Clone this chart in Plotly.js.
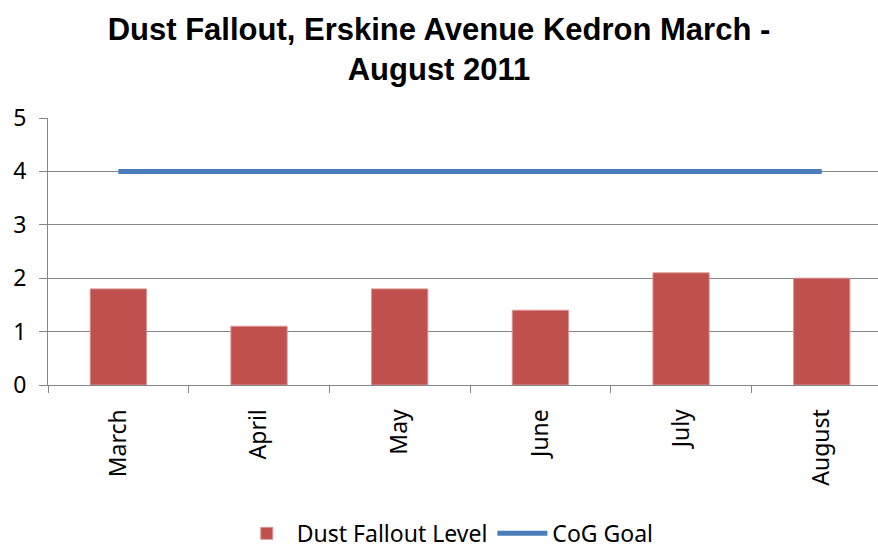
<!DOCTYPE html>
<html><head><meta charset="utf-8">
<script src="https://cdn.plot.ly/plotly-3.0.1.min.js"></script>
<style>html,body{margin:0;padding:0;background:#fff}#chart{width:878px;height:551px}</style>
</head><body><div id="chart"></div>
<script>
const months = ["March","April","May","June","July","August"];
const dustLevel = [1.8, 1.1, 1.8, 1.4, 2.1, 2.0];
const cogGoal = [4, 4, 4, 4, 4, 4];
const yTicks = [0,1,2,3,4,5];

const tickFont = {family:"Noto Sans, Open Sans, sans-serif", size:23, color:"#000"};
const data = [
  {type:"bar", name:"Dust Fallout Level", x:months, y:dustLevel,
   marker:{color:"#c0504d", line:{color:"#d99694", width:1}}},
  {type:"scatter", mode:"lines", name:"CoG Goal", x:months, y:cogGoal,
   line:{color:"#4a7ebb", width:5}}
];
const layout = {
  width:878, height:551,
  margin:{l:48, r:0, t:118, b:166},
  paper_bgcolor:"#fff", plot_bgcolor:"#fff",
  title:{text:"Dust Fallout, Erskine Avenue Kedron March -<br>August 2011",
    font:{family:"Liberation Sans, Arial, sans-serif", size:31, color:"#000", weight:"bold"},
    x:0.5, xanchor:"center", y:0.928, yanchor:"top", yref:"container"},
  bargap:0.6,
  xaxis:{type:"category", range:[-0.5,5.4], tickangle:-90, tickson:"boundaries",
    ticks:"outside", ticklen:7, tickcolor:"#868686", tickwidth:1,
    showline:true, linecolor:"#868686", linewidth:1, showgrid:false,
    tickfont:tickFont, ticklabelstandoff:14, fixedrange:true},
  yaxis:{range:[0,5], tickvals:yTicks, ticks:"outside", ticklen:8, tickcolor:"#868686",
    showline:true, linecolor:"#868686", linewidth:1, showgrid:true, gridcolor:"#868686",
    gridwidth:1, zeroline:false, tickfont:tickFont, ticklabelstandoff:8, fixedrange:true},
  showlegend:true,
  legend:{orientation:"h", x:0.51, xanchor:"center", xref:"container", y:0.032, yanchor:"middle",
    yref:"container", font:tickFont, itemwidth:50, traceorder:"normal"}
};
Plotly.newPlot("chart", data, layout, {displayModeBar:false, staticPlot:true});
</script></body></html>
